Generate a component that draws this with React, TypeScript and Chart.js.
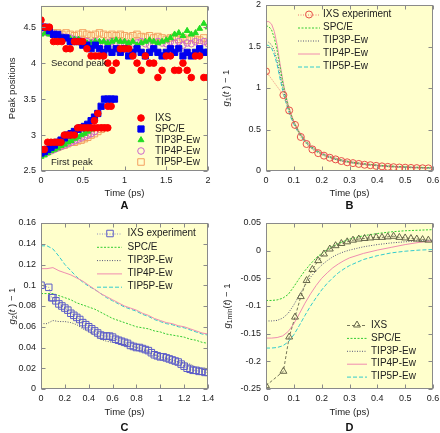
import React, { useEffect, useRef } from "react";
import { Chart, registerables } from "chart.js";
Chart.register(...registerables);

const FONT = '"Liberation Sans", Arial, Helvetica, sans-serif';
const BG = "#ffffcc";

// ---------------- Panel A : peak positions ----------------
const A_T2 = [0, 0.05, 0.1, 0.15, 0.2, 0.25, 0.3, 0.35, 0.4, 0.45, 0.5, 0.55, 0.6, 0.65, 0.7, 0.75, 0.8, 0.85, 0.9, 0.95, 1, 1.05, 1.1, 1.15, 1.2, 1.25, 1.3, 1.35, 1.4, 1.45, 1.5, 1.55, 1.6, 1.65, 1.7, 1.75, 1.8, 1.85, 1.9, 1.95, 2];
const A_IXS2 = [4.6, 4.5, 4.5, 4.3, 4.3, 4.3, 4.2, 4.2, 4.3, 4.3, 4.3, 4.2, 4.1, 4.1, 4.1, 4.1, 4.0, 3.9, 4.0, 4.2, 4.2, 4.2, 4.1, 4.0, 3.9, 4.1, 4.0, 4.0, 3.8, 3.9, 4.1, 4.1, 3.9, 3.9, 4.0, 3.9, 3.8, 4.1, 4.1, 3.8, 3.8];
const A_SPC2 = [4.5, 4.5, 4.45, 4.4, 4.4, 4.35, 4.35, 4.3, 4.3, 4.3, 4.25, 4.25, 4.2, 4.25, 4.2, 4.15, 4.2, 4.15, 4.2, 4.15, 4.2, 4.1, 4.15, 4.2, 4.15, 4.1, 4.15, 4.2, 4.15, 4.1, 4.15, 4.2, 4.15, 4.2, 4.1, 4.15, 4.1, 4.15, 4.2, 4.15, 4.15];
const A_T3P2 = [4.4, 4.42, 4.4, 4.38, 4.37, 4.36, 4.35, 4.34, 4.33, 4.33, 4.3, 4.28, 4.28, 4.3, 4.3, 4.3, 4.28, 4.3, 4.32, 4.3, 4.3, 4.28, 4.3, 4.25, 4.28, 4.3, 4.32, 4.3, 4.28, 4.3, 4.32, 4.35, 4.4, 4.42, 4.38, 4.45, 4.4, 4.42, 4.48, 4.55, 4.5];
const A_T4P2 = [4.45, 4.43, 4.42, 4.4, 4.38, 4.37, 4.36, 4.35, 4.33, 4.32, 4.3, 4.3, 4.28, 4.3, 4.28, 4.27, 4.28, 4.3, 4.28, 4.27, 4.28, 4.25, 4.27, 4.28, 4.3, 4.27, 4.25, 4.28, 4.3, 4.28, 4.27, 4.3, 4.28, 4.3, 4.25, 4.28, 4.27, 4.3, 4.28, 4.3, 4.27];
const A_T5P2 = [4.45, 4.45, 4.43, 4.42, 4.42, 4.4, 4.42, 4.4, 4.38, 4.4, 4.42, 4.4, 4.38, 4.4, 4.42, 4.4, 4.38, 4.4, 4.38, 4.4, 4.38, 4.36, 4.38, 4.4, 4.37, 4.36, 4.38, 4.35, 4.37, 4.35, 4.33, 4.35, 4.36, 4.33, 4.35, 4.32, 4.35, 4.33, 4.32, 4.35, 4.3];

const A_T1 = [0, 0.04, 0.08, 0.12, 0.16, 0.2, 0.24, 0.28, 0.32, 0.36, 0.4, 0.44, 0.48, 0.52, 0.56, 0.6, 0.64, 0.68, 0.72, 0.76, 0.8, 0.84, 0.88];
const A_IXS1 = [2.8, 2.8, 2.9, 2.9, 2.9, 2.9, 2.9, 3.0, 3.0, 3.0, 3.0, 3.1, 3.1, 3.1, 3.1, 3.1, 3.2, 3.3, 3.1, 3.1, 3.4, 3.4, null];
const A_IXS1B_T = [0.64, 0.68, 0.8];
const A_IXS1B = [3.1, 3.1, 3.1];
const A_SPC1 = [2.75, 2.77, 2.8, 2.83, 2.86, 2.9, 2.93, 2.96, 3.0, 3.02, 3.05, 3.08, 3.1, 3.12, 3.15, 3.2, 3.25, 3.3, 3.4, 3.5, 3.5, 3.5, 3.5];
const A_T3P1 = [2.7, 2.72, 2.75, 2.78, 2.8, 2.82, 2.85, 2.87, 2.9, 2.92, 2.95, 2.97, 3.0, 3.02, 3.05, 3.08, null, null, null, null, null, null, null];
const A_T4P1 = [2.72, 2.74, 2.76, 2.78, 2.8, 2.82, 2.84, 2.86, 2.88, 2.9, 2.92, 2.94, 2.96, 2.98, 3.0, 3.02, 3.05, null, null, null, null, null, null];
const A_T5P1 = [2.75, 2.76, 2.78, 2.8, 2.82, 2.83, 2.85, 2.86, 2.88, 2.9, 2.9, 2.92, 2.93, 2.95, 2.97, 3.0, 3.02, 3.05, 3.08, 3.1, null, null, null];
const A_XTICKS = [0, 0.5, 1, 1.5, 2];
const A_YTICKS = [2.5, 3, 3.5, 4, 4.5];

// ---------------- Panel B : g1(t) - 1 ----------------
const T_IXS = [0, 0.0625, 0.0833, 0.1042, 0.125, 0.1458, 0.1667, 0.1875, 0.2083, 0.2292, 0.25, 0.2708, 0.2917, 0.3125, 0.3333, 0.3542, 0.375, 0.3958, 0.4167, 0.4375, 0.4583, 0.4792, 0.5, 0.5208, 0.5417, 0.5625, 0.5833];
const B_IXS = [1.2, 0.915, 0.73, 0.555, 0.41, 0.325, 0.26, 0.215, 0.185, 0.16, 0.14, 0.12, 0.105, 0.095, 0.085, 0.075, 0.07, 0.062, 0.056, 0.05, 0.046, 0.042, 0.04, 0.037, 0.035, 0.033, 0.032];
const B_T = [0, 0.01, 0.02, 0.03, 0.04, 0.05, 0.06, 0.07, 0.08, 0.09, 0.1, 0.12, 0.14, 0.16, 0.18, 0.2, 0.22, 0.24, 0.26, 0.28, 0.3, 0.32, 0.34, 0.36, 0.38, 0.4, 0.42, 0.44, 0.46, 0.48, 0.5, 0.52, 0.54, 0.56, 0.58, 0.6];
const B_SPC = [1.75, 1.74, 1.7, 1.6, 1.45, 1.26, 1.07, 0.91, 0.78, 0.68, 0.59, 0.46, 0.37, 0.3, 0.25, 0.21, 0.18, 0.16, 0.14, 0.125, 0.112, 0.1, 0.092, 0.084, 0.077, 0.071, 0.066, 0.061, 0.057, 0.053, 0.05, 0.047, 0.045, 0.043, 0.041, 0.04];
const B_T3P = [1.55, 1.55, 1.52, 1.45, 1.33, 1.17, 1.01, 0.87, 0.76, 0.66, 0.58, 0.45, 0.36, 0.29, 0.24, 0.205, 0.175, 0.15, 0.13, 0.115, 0.103, 0.093, 0.084, 0.077, 0.07, 0.064, 0.059, 0.055, 0.051, 0.048, 0.045, 0.042, 0.04, 0.038, 0.036, 0.035];
const B_T4P = [1.8, 1.8, 1.77, 1.68, 1.52, 1.3, 1.1, 0.93, 0.8, 0.69, 0.6, 0.47, 0.38, 0.31, 0.26, 0.22, 0.19, 0.165, 0.145, 0.13, 0.115, 0.105, 0.095, 0.085, 0.078, 0.072, 0.066, 0.061, 0.057, 0.053, 0.05, 0.047, 0.045, 0.043, 0.041, 0.04];
const B_T5P = [1.52, 1.51, 1.48, 1.4, 1.28, 1.12, 0.97, 0.84, 0.73, 0.64, 0.56, 0.44, 0.35, 0.285, 0.235, 0.2, 0.17, 0.148, 0.13, 0.115, 0.102, 0.092, 0.083, 0.076, 0.07, 0.064, 0.059, 0.055, 0.051, 0.048, 0.045, 0.042, 0.04, 0.038, 0.036, 0.035];
const B_XTICKS = [0, 0.1, 0.2, 0.3, 0.4, 0.5, 0.6];
const B_YTICKS = [0, 0.5, 1, 1.5, 2];

// ---------------- Panel C : g2(t) - 1 ----------------
const C_T_IXS = [0, 0.065, 0.09, 0.1, 0.125, 0.15, 0.175, 0.2, 0.225, 0.25, 0.275, 0.3, 0.325, 0.35, 0.375, 0.4, 0.425, 0.45, 0.475, 0.5, 0.525, 0.55, 0.575, 0.6, 0.625, 0.65, 0.675, 0.7, 0.725, 0.75, 0.775, 0.8, 0.825, 0.85, 0.875, 0.9, 0.925, 0.95, 0.975, 1.0, 1.025, 1.05, 1.075, 1.1, 1.125, 1.15, 1.175, 1.2, 1.225, 1.25, 1.275, 1.3, 1.325, 1.35, 1.375, 1.4];
const C_IXS = [0.1, 0.098, 0.088, 0.088, 0.085, 0.082, 0.08, 0.078, 0.076, 0.073, 0.071, 0.069, 0.067, 0.064, 0.062, 0.06, 0.058, 0.056, 0.054, 0.052, 0.051, 0.051, 0.051, 0.05, 0.048, 0.047, 0.046, 0.045, 0.044, 0.042, 0.041, 0.04, 0.04, 0.039, 0.038, 0.037, 0.035, 0.033, 0.032, 0.031, 0.031, 0.03, 0.029, 0.028, 0.027, 0.026, 0.024, 0.022, 0.02, 0.019, 0.018, 0.018, 0.017, 0.017, 0.016, 0.016];
const C_T = [0, 0.05, 0.1, 0.15, 0.2, 0.25, 0.3, 0.35, 0.4, 0.45, 0.5, 0.55, 0.6, 0.65, 0.7, 0.75, 0.8, 0.85, 0.9, 0.95, 1.0, 1.05, 1.1, 1.15, 1.2, 1.25, 1.3, 1.35, 1.4];
const C_SPC = [0.092, 0.092, 0.092, 0.09, 0.088, 0.086, 0.083, 0.081, 0.079, 0.077, 0.074, 0.071, 0.068, 0.066, 0.064, 0.062, 0.06, 0.059, 0.058, 0.056, 0.055, 0.053, 0.052, 0.051, 0.05, 0.048, 0.047, 0.045, 0.044];
const C_T3P = [0.063, 0.063, 0.066, 0.065, 0.065, 0.064, 0.062, 0.058, 0.055, 0.052, 0.048, 0.046, 0.045, 0.044, 0.043, 0.042, 0.04, 0.038, 0.036, 0.033, 0.031, 0.029, 0.028, 0.026, 0.025, 0.024, 0.021, 0.019, 0.018];
const C_T4P = [0.116, 0.116, 0.117, 0.114, 0.112, 0.11, 0.107, 0.104, 0.1, 0.096, 0.092, 0.089, 0.086, 0.083, 0.08, 0.078, 0.076, 0.073, 0.071, 0.068, 0.066, 0.064, 0.063, 0.061, 0.06, 0.058, 0.056, 0.054, 0.053];
const C_T5P = [0.138, 0.138, 0.135, 0.128, 0.12, 0.114, 0.108, 0.103, 0.099, 0.096, 0.092, 0.088, 0.085, 0.082, 0.079, 0.077, 0.075, 0.072, 0.07, 0.067, 0.065, 0.063, 0.062, 0.06, 0.059, 0.057, 0.055, 0.053, 0.052];
const C_XTICKS = [0, 0.2, 0.4, 0.6, 0.8, 1, 1.2, 1.4];
const C_YTICKS = [0, 0.02, 0.04, 0.06, 0.08, 0.1, 0.12, 0.14, 0.16];

// ---------------- Panel D : g1min(t) - 1 ----------------
const D_IXS = [-0.244, -0.218, -0.156, -0.12, -0.083, -0.054, -0.034, -0.018, -0.006, 0.003, 0.009, 0.013, 0.016, 0.019, 0.021, 0.022, 0.023, 0.024, 0.024, 0.025, 0.026, 0.024, 0.023, 0.022, 0.021, 0.02, 0.019];
const D_T = [0, 0.02, 0.04, 0.06, 0.08, 0.1, 0.12, 0.14, 0.16, 0.18, 0.2, 0.22, 0.24, 0.26, 0.28, 0.3, 0.35, 0.4, 0.45, 0.5, 0.55, 0.6];
const D_SPC = [-0.09, -0.09, -0.089, -0.086, -0.079, -0.065, -0.05, -0.036, -0.024, -0.013, -0.005, 0.002, 0.008, 0.013, 0.017, 0.021, 0.027, 0.031, 0.034, 0.036, 0.037, 0.038];
const D_T3P = [-0.127, -0.127, -0.126, -0.122, -0.113, -0.098, -0.08, -0.063, -0.048, -0.036, -0.026, -0.018, -0.011, -0.006, -0.002, 0.001, 0.007, 0.011, 0.014, 0.016, 0.018, 0.019];
const D_T4P = [-0.158, -0.158, -0.157, -0.154, -0.146, -0.132, -0.114, -0.095, -0.078, -0.063, -0.05, -0.04, -0.031, -0.024, -0.018, -0.013, -0.005, 0.001, 0.006, 0.011, 0.015, 0.018];
const D_T5P = [-0.176, -0.176, -0.175, -0.172, -0.165, -0.152, -0.135, -0.117, -0.1, -0.085, -0.071, -0.059, -0.049, -0.04, -0.033, -0.027, -0.016, -0.009, -0.004, -0.001, 0.001, 0.002];
const D_XTICKS = [0, 0.1, 0.2, 0.3, 0.4, 0.5, 0.6];
const D_YTICKS = [-0.25, -0.2, -0.15, -0.1, -0.05, 0, 0.05];

// ---------------- colours ----------------
const C_RED = "#ff0000";
const C_BLUE = "#0000f0";
const C_GREEN = "#22dd22";
const C_VIOLET = "#cc66cc";
const C_ORANGE = "#f4a060";
const L_SPC = "#33cc33";
const L_T3P = "#55557a";
const L_T4P = "#f08cb0";
const L_T5P = "#33cccc";

type Pt = { x: number; y: number };
function pts(xs: number[], ys: (number | null)[]): Pt[] {
  const out: Pt[] = [];
  ys.forEach((y, i) => {
    if (y !== null && y !== undefined) out.push({ x: xs[i], y });
  });
  return out;
}

const NONE = "rgba(0,0,0,0)";
function markerSet(label: string, data: Pt[], style: string, r: number, color: string, filled: boolean) {
  return {
    label, data, showLine: false, pointStyle: style, pointRadius: r, pointBorderWidth: 1,
    pointBackgroundColor: filled ? color : NONE, pointBorderColor: color,
    borderColor: color, backgroundColor: filled ? color : NONE,
  };
}
function curveSet(label: string, data: Pt[], color: string, dash: number[]) {
  return {
    label, data, showLine: true, pointRadius: 0, borderColor: color, backgroundColor: color,
    borderWidth: 1, borderDash: dash, fill: false, tension: 0,
  };
}
function expSet(label: string, data: Pt[], style: string, r: number, color: string, lineColor: string, dash: number[]) {
  return {
    label, data, showLine: true, pointStyle: style, pointRadius: r, pointBorderWidth: 1,
    pointBorderColor: color, pointBackgroundColor: NONE, borderColor: lineColor, backgroundColor: NONE,
    borderWidth: 1, borderDash: dash, fill: false, tension: 0,
  };
}

type Seg = { t: string; it?: boolean; sub?: boolean };
interface LegendDef { lineX0?: number; lineX1?: number; markerX: number; textX: number; y0: number; dy: number }
interface PanelDef {
  key: string; left: number; top: number; w: number; h: number;
  area: { l: number; r: number; t: number; b: number };
  xMin: number; xMax: number; xTicks: number[];
  yMin: number; yMax: number; yTicks: number[];
  datasets: any[];
  yTitle: Seg[]; yTitleX: number; xTitleY: number;
  letter: string; letterY: number;
  legend: LegendDef;
  notes?: { text: string; x: number; y: number }[];
}

const simSets = (spc: Pt[], t3: Pt[], t4: Pt[], t5: Pt[]) => [
  curveSet("SPC/E", spc, L_SPC, [2, 1.5]),
  curveSet("TIP3P-Ew", t3, L_T3P, [1, 1.5]),
  curveSet("TIP4P-Ew", t4, L_T4P, []),
  curveSet("TIP5P-Ew", t5, L_T5P, [4, 2]),
];

const PANELS: PanelDef[] = [
  {
    key: "A", left: 0, top: 0, w: 220, h: 216,
    area: { l: 41, r: 208, t: 5, b: 171 },
    xMin: 0, xMax: 2, xTicks: A_XTICKS, yMin: 2.5, yMax: 4.8, yTicks: A_YTICKS,
    datasets: [
      markerSet("IXS", [...pts(A_T2, A_IXS2), ...pts(A_T1, A_IXS1), ...pts(A_IXS1B_T, A_IXS1B)], "circle", 3.3, C_RED, true),
      markerSet("SPC/E", [...pts(A_T2, A_SPC2), ...pts(A_T1, A_SPC1)], "rect", 4.4, C_BLUE, true),
      markerSet("TIP3P-Ew", [...pts(A_T2, A_T3P2), ...pts(A_T1, A_T3P1)], "triangle", 3.4, C_GREEN, true),
      markerSet("TIP4P-Ew", [...pts(A_T2, A_T4P2), ...pts(A_T1, A_T4P1)], "circle", 3.3, C_VIOLET, false),
      markerSet("TIP5P-Ew", [...pts(A_T2, A_T5P2), ...pts(A_T1, A_T5P1)], "rect", 4.6, C_ORANGE, false),
    ],
    yTitle: [{ t: "Peak positions" }], yTitleX: 12, xTitleY: 193,
    letter: "A", letterY: 204.5,
    legend: { markerX: 141, textX: 155, y0: 118, dy: 11 },
    notes: [{ text: "Second peak", x: 0.12, y: 4.0 }, { text: "First peak", x: 0.12, y: 2.62 }],
  },
  {
    key: "B", left: 220, top: 0, w: 220, h: 216,
    area: { l: 46, r: 213, t: 5, b: 171 },
    xMin: 0, xMax: 0.6, xTicks: B_XTICKS, yMin: 0, yMax: 2, yTicks: B_YTICKS,
    datasets: [
      expSet("IXS experiment", pts(T_IXS, B_IXS), "circle", 3.5, "#e8504a", "#ee7a70", [1, 1.5]),
      ...simSets(pts(B_T, B_SPC), pts(B_T, B_T3P), pts(B_T, B_T4P), pts(B_T, B_T5P)),
    ],
    yTitle: [{ t: "g", it: true }, { t: "1", sub: true }, { t: "(" }, { t: "t", it: true }, { t: " ) − 1" }],
    yTitleX: 6, xTitleY: 193, letter: "B", letterY: 204.5,
    legend: { lineX0: 78, lineX1: 100, markerX: 89, textX: 103, y0: 14.5, dy: 13 },
  },
  {
    key: "C", left: 0, top: 216, w: 220, h: 217,
    area: { l: 41, r: 208, t: 7, b: 173 },
    xMin: 0, xMax: 1.4, xTicks: C_XTICKS, yMin: 0, yMax: 0.16, yTicks: C_YTICKS,
    datasets: [
      expSet("IXS experiment", pts(C_T_IXS, C_IXS), "rect", 4.6, "#5c5cc8", "#9090c0", [1, 1.5]),
      ...simSets(pts(C_T, C_SPC), pts(C_T, C_T3P), pts(C_T, C_T4P), pts(C_T, C_T5P)),
    ],
    yTitle: [{ t: "g", it: true }, { t: "2", sub: true }, { t: "(" }, { t: "t", it: true }, { t: " ) − 1" }],
    yTitleX: 12, xTitleY: 196.5, letter: "C", letterY: 210.5,
    legend: { lineX0: 97, lineX1: 122, markerX: 110, textX: 127.5, y0: 17.5, dy: 13.3 },
  },
  {
    key: "D", left: 220, top: 216, w: 220, h: 217,
    area: { l: 46, r: 213, t: 7, b: 173 },
    xMin: 0, xMax: 0.6, xTicks: D_XTICKS, yMin: -0.25, yMax: 0.05, yTicks: D_YTICKS,
    datasets: [
      expSet("IXS", pts(T_IXS, D_IXS), "triangle", 4, "#66664a", "#77775a", [3, 2]),
      ...simSets(pts(D_T, D_SPC), pts(D_T, D_T3P), pts(D_T, D_T4P), pts(D_T, D_T5P)),
    ],
    yTitle: [{ t: "g", it: true }, { t: "1min", sub: true }, { t: "(" }, { t: "t", it: true }, { t: ") − 1" }],
    yTitleX: 7, xTitleY: 196.5, letter: "D", letterY: 210.5,
    legend: { lineX0: 127, lineX1: 147, markerX: 137, textX: 151, y0: 109, dy: 12.9 },
  },
];

function drawMarker(ctx: CanvasRenderingContext2D, style: string, x: number, y: number, r: number, fill: string, stroke: string) {
  ctx.beginPath();
  if (style === "rect") {
    const s = r * Math.SQRT1_2;
    ctx.rect(x - s, y - s, 2 * s, 2 * s);
  } else if (style === "triangle") {
    let a = 0;
    ctx.moveTo(x + Math.sin(a) * r, y - Math.cos(a) * r);
    a += (2 * Math.PI) / 3;
    ctx.lineTo(x + Math.sin(a) * r, y - Math.cos(a) * r);
    a += (2 * Math.PI) / 3;
    ctx.lineTo(x + Math.sin(a) * r, y - Math.cos(a) * r);
    ctx.closePath();
  } else {
    ctx.arc(x, y, r, 0, Math.PI * 2);
  }
  if (fill && fill !== NONE) {
    ctx.fillStyle = fill;
    ctx.fill();
  }
  ctx.setLineDash([]);
  ctx.lineWidth = 1;
  ctx.strokeStyle = stroke;
  ctx.stroke();
}

function drawRich(ctx: CanvasRenderingContext2D, segs: Seg[], cx: number, cy: number, size: number) {
  const fonts = segs.map((s) => `${s.it ? "italic " : ""}${s.sub ? size * 0.72 : size}px ${FONT}`);
  let total = 0;
  const ws = segs.map((s, i) => {
    ctx.font = fonts[i];
    const w = ctx.measureText(s.t).width;
    total += w;
    return w;
  });
  ctx.save();
  ctx.translate(cx, cy);
  ctx.rotate(-Math.PI / 2);
  ctx.textBaseline = "middle";
  ctx.textAlign = "left";
  ctx.fillStyle = "#222";
  let x = -total / 2;
  segs.forEach((s, i) => {
    ctx.font = fonts[i];
    ctx.fillText(s.t, x, s.sub ? size * 0.3 : 0);
    x += ws[i];
  });
  ctx.restore();
}

function makeDecor(p: PanelDef) {
  return {
    id: "panelDecor" + p.key,
    beforeDraw(chart: any) {
      const { ctx, chartArea: a } = chart;
      ctx.save();
      ctx.fillStyle = BG;
      ctx.fillRect(a.left, a.top, a.right - a.left, a.bottom - a.top);
      ctx.restore();
    },
    afterDraw(chart: any) {
      const { ctx, chartArea: a } = chart;
      const xs = chart.scales.x;
      const ys = chart.scales.y;
      ctx.save();
      // frame + inward ticks
      const L = Math.round(a.left) + 0.5, R = Math.round(a.right) - 0.5;
      const T = Math.round(a.top) + 0.5, B = Math.round(a.bottom) - 0.5;
      ctx.strokeStyle = "#8a8a8a";
      ctx.lineWidth = 1;
      ctx.setLineDash([]);
      ctx.strokeRect(L, T, R - L, B - T);
      ctx.beginPath();
      p.xTicks.forEach((v) => {
        const x = Math.round(xs.getPixelForValue(v)) + 0.5;
        ctx.moveTo(x, B); ctx.lineTo(x, B - 4);
        ctx.moveTo(x, T); ctx.lineTo(x, T + 4);
      });
      p.yTicks.forEach((v) => {
        const y = Math.round(ys.getPixelForValue(v)) + 0.5;
        ctx.moveTo(L, y); ctx.lineTo(L + 4, y);
        ctx.moveTo(R, y); ctx.lineTo(R - 4, y);
      });
      ctx.stroke();

      // axis titles
      ctx.fillStyle = "#222";
      ctx.font = `9.5px ${FONT}`;
      ctx.textAlign = "center";
      ctx.textBaseline = "middle";
      ctx.fillText("Time (ps)", (a.left + a.right) / 2, p.xTitleY);
      drawRich(ctx, p.yTitle, p.yTitleX, (a.top + a.bottom) / 2, 9.5);

      // annotations
      (p.notes || []).forEach((n) => {
        ctx.font = `9.5px ${FONT}`;
        ctx.textAlign = "left";
        ctx.textBaseline = "middle";
        ctx.fillStyle = "#222";
        ctx.fillText(n.text, xs.getPixelForValue(n.x), ys.getPixelForValue(n.y));
      });

      // legend
      const lg = p.legend;
      p.datasets.forEach((d: any, i: number) => {
        const y = lg.y0 + i * lg.dy;
        if (d.showLine && lg.lineX0 !== undefined && lg.lineX1 !== undefined) {
          ctx.beginPath();
          ctx.setLineDash(d.borderDash || []);
          ctx.strokeStyle = d.borderColor;
          ctx.lineWidth = 1;
          ctx.moveTo(lg.lineX0, y + 0.5);
          ctx.lineTo(lg.lineX1, y + 0.5);
          ctx.stroke();
          ctx.setLineDash([]);
        }
        if (d.pointRadius > 0) {
          drawMarker(ctx, d.pointStyle, lg.markerX, y, d.pointRadius, d.pointBackgroundColor, d.pointBorderColor);
        }
        ctx.font = `10px ${FONT}`;
        ctx.textAlign = "left";
        ctx.textBaseline = "middle";
        ctx.fillStyle = "#222";
        ctx.fillText(d.label, lg.textX, y);
      });
      ctx.restore();
    },
  };
}

const fmt = (v: any) => String(Math.round(Number(v) * 1000) / 1000);

function makeConfig(p: PanelDef): any {
  const tickFont = { family: FONT, size: 9 };
  const zeroPad = (s: any) => {
    s.paddingLeft = 0; s.paddingRight = 0; s.paddingTop = 0; s.paddingBottom = 0;
  };
  return {
    type: "scatter",
    data: { datasets: p.datasets },
    options: {
      animation: false,
      responsive: false,
      events: [],
      layout: { padding: { left: 0, right: p.w - p.area.r, top: p.area.t, bottom: 0 } },
      plugins: { legend: { display: false }, tooltip: { enabled: false }, title: { display: false } },
      scales: {
        x: {
          type: "linear", min: p.xMin, max: p.xMax,
          grid: { display: false, drawTicks: false }, border: { display: false },
          afterBuildTicks: (s: any) => { s.ticks = p.xTicks.map((v) => ({ value: v })); },
          afterFit: (s: any) => { s.height = p.h - p.area.b; zeroPad(s); },
          ticks: { padding: 4.5, color: "#222", font: tickFont, maxRotation: 0, autoSkip: false, callback: fmt },
        },
        y: {
          type: "linear", min: p.yMin, max: p.yMax,
          grid: { display: false, drawTicks: false }, border: { display: false },
          afterBuildTicks: (s: any) => { s.ticks = p.yTicks.map((v) => ({ value: v })); },
          afterFit: (s: any) => { s.width = p.area.l; zeroPad(s); },
          ticks: { padding: 5, color: "#222", font: tickFont, autoSkip: false, callback: fmt },
        },
      },
    },
    plugins: [makeDecor(p)],
  };
}

function PanelView({ p }: { p: PanelDef }) {
  const ref = useRef<HTMLCanvasElement>(null);
  useEffect(() => {
    if (!ref.current) return;
    const chart = new Chart(ref.current, makeConfig(p));
    return () => chart.destroy();
  }, [p]);
  const cx = (p.area.l + p.area.r) / 2;
  return (
    <div style={{ position: "absolute", left: p.left, top: p.top, width: p.w, height: p.h }}>
      <canvas ref={ref} width={p.w} height={p.h} style={{ display: "block", width: p.w, height: p.h }} />
      <div
        style={{
          position: "absolute", left: cx - 20, width: 40, top: p.letterY - 7, height: 14,
          lineHeight: "14px", textAlign: "center", fontFamily: FONT, fontWeight: "bold",
          fontSize: 11, color: "#111",
        }}
      >
        {p.letter}
      </div>
    </div>
  );
}

export default function App() {
  return (
    <div style={{ position: "fixed", left: 0, top: 0, width: 440, height: 433, background: "#fff", overflow: "hidden" }}>
      {PANELS.map((p) => (
        <PanelView key={p.key} p={p} />
      ))}
    </div>
  );
}
